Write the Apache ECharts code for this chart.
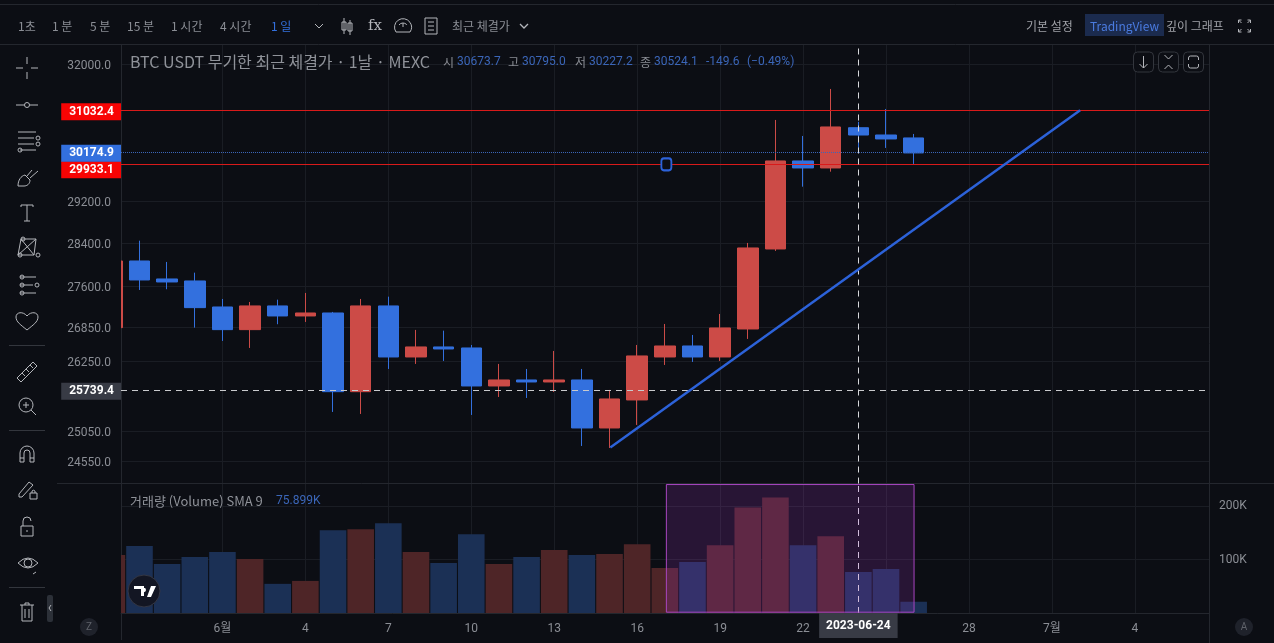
<!DOCTYPE html>
<html lang="ko">
<head>
<meta charset="UTF-8">
<title>BTC USDT</title>
<script src="https://cdn.jsdelivr.net/npm/echarts@6/dist/echarts.min.js"></script>
<style>
  html, body { margin: 0; padding: 0; background: #0c0e14; }
  #main { width: 1274px; height: 643px; }
</style>
</head>
<body>
<div id="main"></div>
<script>
// one entry per daily candle
var dates = ['2023-05-28','2023-05-29','2023-05-30','2023-05-31','2023-06-01','2023-06-02','2023-06-03','2023-06-04','2023-06-05','2023-06-06',
  '2023-06-07','2023-06-08','2023-06-09','2023-06-10','2023-06-11','2023-06-12','2023-06-13','2023-06-14','2023-06-15','2023-06-16',
  '2023-06-17','2023-06-18','2023-06-19','2023-06-20','2023-06-21','2023-06-22','2023-06-23','2023-06-24','2023-06-25','2023-06-26'];
var opens  = [26839,28061,27726,27689,27212,26803,27231,27049,27103,25715,27231,26318,26495,26477,25813,25917,25882,25917,25099,25573,26318,26512,26318,26815,28287,30000,29860,30673.7,30525,30465];
var closes = [28061,27707,27670,27200,26803,27231,27049,27103,25715,27231,26318,26495,26459,25813,25917,25882,25917,25099,25590,26336,26512,26318,26833,28306,30000,29860,30689,30524.1,30444,30161];
var lows   = [26839,27523,27536,26839,26601,26477,26900,26941,25369,25335,26108,26196,26248,25318,25624,25607,25710,24799,24766,25150,26178,26231,26248,26637,28250,29489,29786,30227.2,30262,29940];
var highs  = [28061,28444,28043,27843,27358,27303,27345,27468,27122,27358,27400,26798,26785,26530,26196,26108,26424,26108,25745,26530,26905,26708,27085,28401,30833,30505,31478,30795,31060,30546];
var volumes = [108700,125500,91900,105000,114300,101200,54700,60200,155300,157100,168300,114300,93800,147800,91900,105000,118000,108700,110600,129200,84500,95700,127300,198100,216800,127300,144100,77000,82600,21100];

var priceTicks = [32000,29200,28400,27600,26850,26250,25050,24550];
var volumeTicks = [100000,200000];
var dateTicks = ['2023-06-01','2023-06-04','2023-06-07','2023-06-10','2023-06-13','2023-06-16','2023-06-19','2023-06-22','2023-06-25','2023-06-28','2023-07-01','2023-07-04'];
var dateTickLabels = ['6월','4','7','10','13','16','19','22','','28','7월','4'];

var redLevels = [31032.4, 29933.1];
var lastPrice = 30174.9;
var crossPrice = 25739.4;
var crossDate = '2023-06-24';
var viewFrom = '2023-05-28T07:57', viewTo = '2023-07-06T16:21';
var trendStart = ['2023-06-15T00:40', 24775];
var trendEnd = ['2023-07-02T00:30', 31032.4];
var boxFrom = '2023-06-17T01:20';
var boxTo = '2023-06-26T00:20';
var handleDate = '2023-06-17T01:20';

var BLUE = '#3370de', RED = '#cc4b47', TXT = '#8b8e95', GRID = '#1a1d24', EDGE = '#24272e';
var FONT = 'Roboto, "Noto Sans CJK KR", sans-serif';
var CJK = '"Noto Sans CJK KR", sans-serif';

// the x axis is a plain value axis in ms so the view can start part way through a candle
function ms(s) { return new Date(s.length === 10 ? s + 'T00:00' : s).getTime(); }
var tickMs = dateTicks.map(ms);

var candles = dates.map(function (d, i) { return [ms(d), opens[i], closes[i], lows[i], highs[i]]; });
var volumeBars = dates.map(function (d, i) {
  return { value: [ms(d), volumes[i]], itemStyle: { color: closes[i] >= opens[i] ? '#4e2527' : '#1b3055' } };
});

function levelLine(value, color, type, width, labelBg, offsetY) {
  return {
    yAxis: value,
    lineStyle: { color: color, type: type, width: width },
    label: { show: true, position: 'start', distance: 0, offset: [0, offsetY || 0], formatter: value.toFixed(1), color: '#fff', fontWeight: 'bold',
      fontSize: 12, fontFamily: FONT, backgroundColor: labelBg, padding: [4, 7, 1, 8], lineHeight: 12 }
  };
}

// chrome drawn around the chart
var graphics = [];
var iconCount = 0;
function txt(x, y, s, color, size, align, font) {
  graphics.push({ type: 'text', x: x, y: y, silent: true, z: 50, style: { text: s, fill: color || TXT, fontSize: size || 12,
    fontFamily: font || CJK, align: align || 'left', verticalAlign: 'middle' } });
}
function seg(x1, y1, x2, y2, color) {
  graphics.push({ type: 'line', silent: true, z: 1, shape: { x1: x1, y1: y1, x2: x2, y2: y2 }, style: { stroke: color || EDGE, lineWidth: 1 } });
}
// the graphic component has no svg path type, so each icon is registered as its own shape
function pathEl(x, y, d, style, z) {
  var name = 'tvIcon' + (iconCount++);
  echarts.graphic.registerShape(name, echarts.graphic.extendPath(d, {}));
  graphics.push({ type: name, x: x, y: y, silent: true, z: z || 50, style: style });
}
function icon(x, y, d, w) {
  pathEl(x, y, d, { stroke: '#b4b6bb', fill: 'none', lineWidth: w || 1 });
}

// bars on a value axis are not clipped at the grid edge, so hide the part of the first day left of it
graphics.push({ type: 'rect', silent: true, z: 3, shape: { x: 90, y: 250, width: 31, height: 85 }, style: { fill: '#0c0e14' } });
graphics.push({ type: 'rect', silent: true, z: 3, shape: { x: 90, y: 545, width: 31, height: 68 }, style: { fill: '#0c0e14' } });

seg(0, 4.5, 1274, 4.5); seg(0, 44.5, 1274, 44.5); seg(57, 483.5, 1274, 483.5);
seg(121.5, 44, 121.5, 640); seg(1209.5, 44, 1209.5, 643);

[[18,'1초'],[52,'1 분'],[90,'5 분'],[127,'15 분'],[171,'1 시간'],[220,'4 시간']].forEach(function (t) { txt(t[0], 26, t[1], TXT, 12); });
txt(271, 26, '1 일', BLUE, 12);
txt(452, 26, '최근 체결가', TXT, 12);
txt(1026, 26, '기본 설정', '#a0a2a8', 12);
graphics.push({ type: 'rect', silent: true, z: 40, shape: { x: 1085, y: 14, width: 79, height: 22 }, style: { fill: '#1b2b4e' } });
txt(1124.5, 26, 'TradingView', '#4a7be0', 12, 'center');
txt(1166, 26, '깊이 그래프', '#a0a2a8', 12);
icon(319, 26, 'M-4-2L0 2L4-2');
icon(524, 26, 'M-4-2L0 2L4-2', 1.3);
icon(347, 26, 'M-3-8V8M3-6V9M-5-4H-1V4H-5ZM1-3H5V5H1Z');
icon(403, 26, 'M-7 6A8.5 8.5 0 1 1 7 6ZM0 1L0-3M-4-1A5 5 0 0 1 4-1');
icon(431, 26, 'M-6-8H6V8H-6ZM-3-4H3M-3 0H3M-3 4H3');
icon(1244.5, 26, 'M-6-3V-6H-3M3-6H6V-3M6 3V6H3M-3 6H-6V3M-6-6L-3-3M6-6L3-3M6 6L3 3M-6 6L-3 3');
txt(375, 26, 'fx', '#b4b6bb', 15, 'center', 'DejaVu Serif');

txt(130, 62, 'BTC USDT 무기한 최근 체결가 · 1날 · MEXC', '#8f9299', 16);
[[443,'시','30673.7'],[508,'고','30795.0'],[575,'저','30227.2'],[640,'종','30524.1']].forEach(function (t) {
  txt(t[0], 62, t[1], TXT, 12); txt(t[0] + 14, 62, t[2], '#3b66b8', 12, 'left', FONT);
});
txt(706, 62, '-149.6', '#3b66b8', 12, 'left', FONT);
txt(747, 62, '(−0.49%)', '#3b66b8', 12, 'left', FONT);
txt(130, 501, '거래량 (Volume) SMA 9', '#8f9299', 13);
txt(276, 501, '75.899K', '#3b66b8', 12, 'left', FONT);

[1143.5, 1168.5, 1193.5].forEach(function (x) {
  graphics.push({ type: 'rect', silent: true, z: 50, shape: { x: x - 10, y: 52, width: 20, height: 20, r: 4 }, style: { stroke: '#33363d', fill: '#0c0e14' } });
});
icon(1143.5, 62, 'M0-6V6M-4 2L0 6L4 2');
icon(1168.5, 62, 'M-4-7L0-3L4-7M-4 7L0 3L4 7');
icon(1193.5, 62, 'M-5-2V-4Q-5-6-3-6H3Q5-6 5-4V-2M-5 2V4Q-5 6-3 6H3Q5 6 5 4V2');

icon(27, 68, 'M-11 0H-4M4 0H11M0-11V-4M0 4V11');
icon(27, 105, 'M-11 0H-2.5M2.5 0H11M2.5 0A2.5 2.5 0 1 1-2.5 0A2.5 2.5 0 1 1 2.5 0');
icon(27, 141, 'M-9-9H9M-9-3H7M-9 3H7M-7 9H9M9-3A2 2 0 1 1 9-2.9M9 3A2 2 0 1 1 9 3.1M-9 9A2 2 0 1 1-9 9.1');
icon(27, 178, 'M-9 8C-9 2-6-2-2-3L3 2C3 6 0 8-3 8ZM0-2L5-8M3 0L11-7');
icon(27, 213, 'M-6-8H6M0-8V8M-3 8H3M-6-8V-6M6-8V-6');
icon(27, 248, 'M-6-9L-9 7L7 7L9-9ZM-6-9L7 7M9-9L-9 7M-6-9A2 2 0 1 1-6-8.9M9 7A2 2 0 1 1 9 7.1M-9 7A2 2 0 1 1-9 7.1');
icon(27, 285, 'M-7-8H9M-7 0H6M-7 8H9M-7-8A2 2 0 1 1-7-7.9M-7 0A2 2 0 1 1-7 .1M-7 8A2 2 0 1 1-7 8.1M8 0A2 2 0 1 1 8 .1');
icon(27, 321, 'M0 9C-6 4-11 1-11-4C-11-9-4-10 0-5C4-10 11-9 11-4C11 1 6 4 0 9Z');
icon(27, 372, 'M-10 6L6-10L10-6L-6 10ZM-5 1L-2 4M-1-3L2 0M3-7L6-4');
icon(26, 405, 'M7 0A7 7 0 1 1-7 0A7 7 0 1 1 7 0M5 5L10 10M-3 0H3M0-3V3');
icon(27, 454, 'M-7 8V-1A7 7 0 0 1 7-1V8H3V-1A3 3 0 0 0-3-1V8H-7M-7 4H-3M3 4H7');
icon(27, 490, 'M-8 4L2-8L6-5L-5 7L-8 7ZM3 3H10V9H3ZM5 3V1A2 2 0 0 1 8 1V3');
icon(27, 527, 'M-6-1H6V9H-6ZM-4-1V-6A4 4 0 0 1 4-6M0 3V5');
icon(28, 563, 'M-10 0Q0-10 10 0Q0 10-10 0M4 0A4 4 0 1 1-4 0A4 4 0 1 1 4 0M8 9L5 11');
icon(27, 612, 'M-7-7H7M-5-7V9H5V-7M-2-7V-9H2V-7M-2-3V6M2-3V6');
seg(9, 345.5, 45, 345.5, '#33363d'); seg(9, 430.5, 45, 430.5, '#33363d'); seg(9, 587.5, 45, 587.5, '#33363d');
graphics.push({ type: 'rect', silent: true, z: 50, shape: { x: 47, y: 595, width: 6, height: 27, r: 2 }, style: { fill: '#2c3038' } });
icon(50, 608, 'M1-3L-1 0L1 3');

// badges on the time axis and the watermark
graphics.push({ type: 'circle', silent: true, z: 50, shape: { cx: 89, cy: 627, r: 9 }, style: { fill: '#1f222b' } });
txt(89, 627, 'Z', '#60636b', 10, 'center', FONT);
graphics.push({ type: 'circle', silent: true, z: 50, shape: { cx: 1244, cy: 627, r: 9 }, style: { fill: '#1f222b' } });
txt(1244, 627, 'A', '#60636b', 10, 'center', FONT);
graphics.push({ type: 'circle', silent: true, z: 50, shape: { cx: 144, cy: 591, r: 16 }, style: { fill: '#131623', stroke: '#343744' } });
pathEl(145, 591, 'M-11-5H-1V5H-4V-2H-11ZM1-1A2.2 2.2 0 1 1 1-1.1ZM6-5H11L6 6H2Z', { fill: '#fff' }, 51);

var option = {
  backgroundColor: '#0c0e14',
  animation: false,
  graphic: graphics,
  grid: [
    { left: 121, right: 65, top: 44.5, height: 439 },
    { left: 121, right: 65, top: 484, height: 129 }
  ],
  xAxis: [
    { type: 'value', gridIndex: 0, min: ms(viewFrom), max: ms(viewTo), scale: true,
      axisLine: { show: false },
      axisLabel: { show: false, customValues: tickMs },
      axisTick: { show: false, customValues: tickMs },
      splitLine: { show: true, lineStyle: { color: GRID } } },
    { type: 'value', gridIndex: 1, min: ms(viewFrom), max: ms(viewTo), scale: true,
      axisLine: { show: true, onZero: false, lineStyle: { color: EDGE } },
      axisTick: { show: false, customValues: tickMs },
      axisLabel: { customValues: tickMs, color: TXT, fontSize: 12, fontFamily: FONT + ',' + CJK, margin: 10, hideOverlap: false,
        formatter: function (v) {
          var i = tickMs.indexOf(+v);
          return i < 0 ? '' : dateTickLabels[i];
        } },
      splitLine: { show: true, lineStyle: { color: GRID } } }
  ],
  yAxis: [
    { type: 'log', gridIndex: 0, min: 24185, max: 32427, position: 'left',
      axisLine: { show: false },
      axisTick: { show: false, customValues: priceTicks },
      axisLabel: { show: false, customValues: priceTicks },
      splitLine: { show: true, lineStyle: { color: GRID } } },
    { type: 'value', gridIndex: 1, min: 0, max: 242000, position: 'right',
      axisLine: { show: false },
      axisTick: { show: false, customValues: volumeTicks },
      axisLabel: { customValues: volumeTicks, color: TXT, fontSize: 12, fontFamily: FONT, margin: 10,
        formatter: function (v) { return (v / 1000) + 'K'; } },
      splitLine: { show: true, lineStyle: { color: GRID } } },
    // same scale again, labels only, so they sit above the cover rect while the grid stays under the candles
    { type: 'log', gridIndex: 0, min: 24185, max: 32427, position: 'left', z: 4,
      axisLine: { show: false },
      axisTick: { show: false, customValues: priceTicks },
      axisLabel: { customValues: priceTicks, color: TXT, fontSize: 12, fontFamily: FONT, margin: 10, hideOverlap: false,
        verticalAlign: 'top', lineHeight: 4,
        formatter: function (v) { return Number(v).toFixed(1); } },
      splitLine: { show: false } }
  ],
  series: [
    { type: 'candlestick', xAxisIndex: 0, yAxisIndex: 0, data: candles, barWidth: 21, silent: true,
      itemStyle: { color: RED, color0: BLUE, borderColor: RED, borderColor0: BLUE, borderWidth: 1 },
      markLine: {
        silent: true, symbol: 'none', animation: false,
        data: [
          levelLine(redLevels[0], '#d91a1a', 'solid', 1, '#f80404', 1.5),
          levelLine(redLevels[1], '#d91a1a', 'solid', 1, '#f80404', 5.5),
          levelLine(lastPrice, '#3b66b8', 'dotted', 1, BLUE, 1),
          levelLine(crossPrice, '#c9cacd', [6, 5], 1, '#383b45', 1),
          { xAxis: ms(crossDate), lineStyle: { color: '#d8d9dc', type: [6, 5], width: 1 }, label: { show: false } },
          [{ coord: [ms(trendStart[0]), trendStart[1]], lineStyle: { color: '#2c62d9', type: 'solid', width: 2.5 }, label: { show: false } }, { coord: [ms(trendEnd[0]), trendEnd[1]] }]
        ]
      },
      markPoint: {
        silent: true, animation: false,
        data: [{ coord: [ms(handleDate), redLevels[1]], symbol: 'roundRect', symbolSize: [10, 12],
          itemStyle: { color: '#0c0e14', borderColor: '#2c62d9', borderWidth: 2 }, label: { show: false } }]
      } },
    { type: 'bar', xAxisIndex: 1, yAxisIndex: 1, data: volumeBars, barWidth: 26.6, silent: true,
      markArea: {
        silent: true, animation: false, z: 6,
        itemStyle: { color: 'rgba(186,60,220,0.17)', borderColor: '#a846c0', borderWidth: 1 },
        data: [[{ coord: [ms(boxFrom), 1500] }, { coord: [ms(boxTo), 241000] }]]
      },
      markLine: {
        silent: true, symbol: 'none', animation: false,
        data: [{ xAxis: ms(crossDate), lineStyle: { color: '#d8d9dc', type: [6, 5], width: 1 },
          label: { show: true, position: 'start', distance: 0, formatter: crossDate, color: '#fff', fontWeight: 'bold', fontSize: 12,
            fontFamily: FONT, backgroundColor: '#383b45', padding: [6, 7, 6, 7], lineHeight: 13 } }]
      } }
  ]
};

var chart = echarts.init(document.getElementById('main'));
chart.setOption(option);
</script>
</body>
</html>
